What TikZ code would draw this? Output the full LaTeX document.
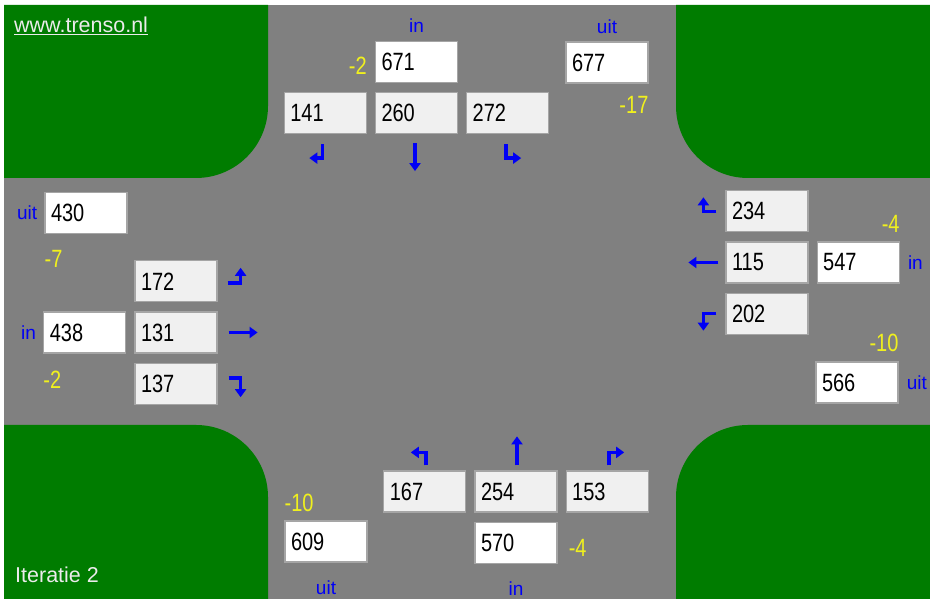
\documentclass[tikz,border=0pt]{standalone}
\usepackage{fontspec}
\setmainfont{Liberation Sans}[FakeStretch=0.8]
\newfontfamily\plainsf{Liberation Sans}
\definecolor{road}{RGB}{128,128,128}
\definecolor{grass}{RGB}{0,124,0}
\definecolor{signblue}{RGB}{0,0,245}
\definecolor{delta}{RGB}{240,240,30}
\definecolor{rim}{RGB}{165,165,165}
\definecolor{lanefill}{RGB}{240,240,240}
\usetikzlibrary{arrows.meta,positioning}
\tikzset{
  box/.style={draw=rim,line width=1.2pt,fill=white,minimum width=82pt,minimum height=41pt,
              text width=70pt,align=left,inner xsep=6pt,inner ysep=0pt,font=\fontsize{25}{28}\selectfont},
  lane/.style={box,fill=lanefill},
  arr/.style={-{Triangle[length=8pt,width=11pt]},line width=3.5pt,draw=signblue},
  lbl/.style={text=signblue,inner sep=0pt,font=\plainsf\fontsize{19}{22}\selectfont},
  dlt/.style={lbl,text=delta,font=\fontsize{25}{28}\selectfont},
  tag/.style={lbl,text=white!92!black,font=\plainsf\fontsize{21.5}{24}\selectfont},
}
\begin{document}
\begin{tikzpicture}[x=1pt,y=1pt,node distance=9pt and 8pt]
    \useasboundingbox (0,0) rectangle (930,601);
    \fill[white] (0,0) rectangle (930,601);
    \fill[road] (4,2) rectangle (930,596);
    \fill[grass] (4,596) -- (268,596) -- (268,495) arc[start angle=0,end angle=-90,radius=72] -- (4,423) -- cycle;
    \fill[grass] (930,596) -- (676,596) -- (676,495) arc[start angle=180,end angle=270,radius=72] -- (930,423) -- cycle;
    \fill[grass] (4,2) -- (268,2) -- (268,104) arc[start angle=0,end angle=90,radius=72] -- (4,176) -- cycle;
    \fill[grass] (930,2) -- (676,2) -- (676,104) arc[start angle=180,end angle=90,radius=72] -- (930,176) -- cycle;
    \node[tag,anchor=base west] (url) at (14,568) {\underline{www.trenso.nl}};
    \node[tag,anchor=base west] (iter) at (15,18) {Iteratie 2};
    % noord
    \node[lane] (ns) at (416.5,488) {260};
    \node[lane,left=of ns] (nr) {141};
    \node[lane,right=of ns] (nl) {272};
    \node[box,above=of ns] (nin) {671};
    \node[box] (nout) at (607,538.5) {677};
    \node[lbl,above=8pt of nin] (nin-lbl) {in};
    \node[dlt,left=8pt of nin,yshift=-4pt] (nin-d) {-2};
    \node[lbl,above=8pt of nout] (nout-lbl) {uit};
    \node[dlt,anchor=north east] (nout-d) at ([yshift=-13pt]nout.south east) {-17};
    \draw[arr] ([shift={(-3,-10)}]nr.south) -- ++(0,-14) -- ++(-13,0);
    \draw[arr] ([shift={(-1.5,-9)}]ns.south) -- ++(0,-28);
    \draw[arr] ([shift={(-1.5,-10)}]nl.south) -- ++(0,-14) -- ++(15,0);
    % west
    \node[lane] (ws) at (176,268.5) {131};
    \node[lane,above=of ws] (wl) {172};
    \node[lane,below=of ws] (wr) {137};
    \node[box,left=of ws] (win) {438};
    \node[box] (wout) at (86,388) {430};
    \node[lbl,left=7pt of wout] (wout-lbl) {uit};
    \node[dlt,anchor=north west] (wout-d) at ([yshift=-16pt]wout.south west) {-7};
    \node[lbl,left=7pt of win] (win-lbl) {in};
    \node[dlt,anchor=north west] (win-d) at ([yshift=-17pt]win.south west) {-2};
    \draw[arr] ([shift={(10,-1.5)}]wl.east) -- ++(13,0) -- ++(0,15);
    \draw[arr] ([xshift=11]ws.east) -- ++(29,0);
    \draw[arr] ([shift={(11,5.5)}]wr.east) -- ++(12,0) -- ++(0,-19);
    % oost
    \node[lane] (es) at (767,338.5) {115};
    \node[lane,above=of es] (er) {234};
    \node[lane,below=of es] (el) {202};
    \node[box,right=of es] (ein) {547};
    \node[box] (eout) at (857,218.5) {566};
    \node[dlt,anchor=south east] (ein-d) at ([yshift=9pt]ein.north east) {-4};
    \node[lbl,right=8pt of ein] (ein-lbl) {in};
    \node[dlt,anchor=south east] (eout-d) at ([yshift=9pt]eout.north east) {-10};
    \node[lbl,right=8pt of eout] (eout-lbl) {uit};
    \draw[arr] ([xshift=-9]er.west) -- ++(-13,0) -- ++(0,14);
    \draw[arr] ([xshift=-7]es.west) -- ++(-30,0);
    \draw[arr] ([xshift=-9]el.west) -- ++(-13,0) -- ++(0,-17);
    % zuid
    \node[lane] (ss) at (516,109.5) {254};
    \node[lane,left=of ss] (sl) {167};
    \node[lane,right=of ss] (sr) {153};
    \node[box,below=of ss] (sin) {570};
    \node[box] (sout) at (326,59.5) {609};
    \node[dlt,anchor=south west] (sout-d) at ([yshift=8pt]sout.north west) {-10};
    \node[dlt,right=11pt of sin,yshift=-5pt] (sin-d) {-4};
    \node[lbl,below=18pt of sout] (sout-lbl) {uit};
    \node[lbl,below=18pt of sin] (sin-lbl) {in};
    \draw[arr] ([shift={(1,5)}]sl.north) -- ++(0,13) -- ++(-15,0);
    \draw[arr] ([shift={(1,5)}]ss.north) -- ++(0,29);
    \draw[arr] ([shift={(2,5)}]sr.north) -- ++(0,13) -- ++(15,0);
\end{tikzpicture}
\end{document}
